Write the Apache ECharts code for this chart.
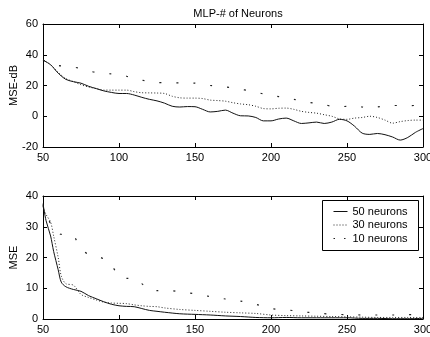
<!DOCTYPE html>
<html><head><meta charset="utf-8">
<script src="https://cdn.jsdelivr.net/npm/echarts@6/dist/echarts.min.js"></script>
<style>html,body{margin:0;padding:0;background:#fff}#c{width:430px;height:337px}</style>
</head><body><div id="c"></div>
<script>
const titleText = "MLP-# of Neurons";
const seriesNames = ["50 neurons", "30 neurons", "10 neurons"];
const xTicks = [50, 100, 150, 200, 250, 300];
const yTicksTop = [-20, 0, 20, 40, 60];
const yTicksBot = [0, 10, 20, 30, 40];

const xTop = [50,55,60,65,70,75,80,85,90,95,100,105,110,115,120,125,130,135,140,145,150,155,160,165,170,175,180,185,190,195,200,205,210,215,220,225,230,235,240,245,250,255,260,265,270,275,280,285,290,295,300];
const top50 = [36.5,33.5,28,24,22.5,21.5,19.5,18,16.5,15.5,14.8,14.8,13.8,12.3,11,10,8.5,6.5,6,6.3,6.2,4.5,2.8,3.2,4,2,0.3,0.2,-0.8,-3,-3,-1.8,-1.2,-3,-4.7,-4.3,-3.8,-4.7,-3.8,-2,-3,-6.5,-11,-11.8,-11.2,-12,-13.5,-15.5,-13.8,-10.5,-8];
const top30 = [36.5,33.5,28.5,24.5,22.5,20.5,19,18,17,17,17,17,16,15.3,15.2,15.1,14.8,13,12,11.8,11.8,11.5,10.5,10.2,9.8,8.8,8,7.5,6.5,5,4.8,5.2,5.3,4.5,3.2,2.5,2,1,0,-1.7,-2,-1.2,-0.8,0,-0.8,-2.5,-4.5,-3.5,-2.8,-2.5,-2.5];
const top10 = [36.5,34.5,33,32.5,32,31,29.5,28.5,28,27.5,27,26,24.5,23.5,22.5,22,21.8,21.7,21.7,21.6,21.5,20.5,20,19.5,19,18.5,17.5,16.8,15.8,14.5,13.5,12.8,12,11,10,9,8.3,7.5,6.5,6.1,6.5,6.9,6,5.2,6,6.8,7,7,6.9,7,7];

const xBot = [50,52,55,57,60,62,65,70,75,80,85,90,95,100,105,110,115,120,125,130,140,150,160,170,180,190,200,210,220,230,240,250,260,270,280,290,300];
const bot50 = [37.5,32,27,22,16,12,10.5,9.6,9,7.6,6.6,5.6,4.8,4.3,4.1,4,3.4,2.8,2.5,2.2,1.7,1.5,1.3,1.0,0.8,0.5,0.4,0.5,0.4,0.4,0.4,0.4,0.2,0.2,0.1,0.1,0.2];
const bot30 = [36.5,34,31.5,27,20,14,11.5,11,8,7,6.2,5.5,5.2,5.1,5,4.6,4.3,4.1,4,3.6,3.1,2.8,2.5,2.2,2,1.8,1.3,1.1,1,0.9,0.8,0.7,0.6,0.5,0.5,0.5,0.5];
const bot10 = [37,34,31,29.5,28,27.5,27.5,27,23,21,20.5,19.5,17.5,14,13.2,13.2,11.5,9.5,9.2,9.5,8.8,8.2,7.3,6.5,5.8,4.8,3.4,3,2.4,1.9,1.6,1.4,1.3,1.3,1.3,1.4,1.4];

const font = "Liberation Sans, Arial, Helvetica, sans-serif";
const styles = [
  {color:'#111', width:1, type:'solid'},
  {color:'#222', width:1, type:[1,2]},
  {color:'#222', width:1.2, type:[2,15]}
];
function pairs(xs, ys){ return xs.map((x,i)=>[x, ys[i]]); }

const grids = [
  {left:43, right:7, top:24, height:123, outerBoundsMode:'none', containLabel:false},
  {left:43, right:7, top:196, height:123, outerBoundsMode:'none', containLabel:false}
];
const xAxes = [], yAxes = [];
const tickLabel = {fontFamily:font, fontSize:11, color:'#000'};
[0,1].forEach(g=>{
  xAxes.push({type:'value', gridIndex:g, min:50, max:300, interval:50, position:'bottom',
    axisLine:{show:true, onZero:false, lineStyle:{color:'#000', width:1}},
    axisTick:{show:true, inside:true, length:4, lineStyle:{color:'#000'}},
    axisLabel:Object.assign({margin:5, showMinLabel:true, showMaxLabel:true}, tickLabel),
    splitLine:{show:false}});
  xAxes.push({type:'value', gridIndex:g, min:50, max:300, interval:50, position:'top',
    axisLine:{show:true, onZero:false, lineStyle:{color:'#000', width:1}},
    axisTick:{show:true, inside:true, length:4, lineStyle:{color:'#000'}},
    axisLabel:{show:false}, splitLine:{show:false}});
});
yAxes.push({type:'value', gridIndex:0, min:-20, max:60, interval:20, position:'left',
  name:'MSE-dB', nameLocation:'middle', nameGap:24, nameMoveOverlap:false,
  nameTextStyle:{fontFamily:font, fontSize:11, color:'#000'},
  axisLine:{show:true, onZero:false, lineStyle:{color:'#000'}},
  axisTick:{show:true, inside:true, length:4, lineStyle:{color:'#000'}},
  axisLabel:Object.assign({margin:5}, tickLabel), splitLine:{show:false}});
yAxes.push({type:'value', gridIndex:0, min:-20, max:60, interval:20, position:'right',
  axisLine:{show:true, onZero:false, lineStyle:{color:'#000'}},
  axisTick:{show:true, inside:true, length:4, lineStyle:{color:'#000'}},
  axisLabel:{show:false}, splitLine:{show:false}});
yAxes.push({type:'value', gridIndex:1, min:0, max:40, interval:10, position:'left',
  name:'MSE', nameLocation:'middle', nameGap:24, nameMoveOverlap:false,
  nameTextStyle:{fontFamily:font, fontSize:11, color:'#000'},
  axisLine:{show:true, onZero:false, lineStyle:{color:'#000'}},
  axisTick:{show:true, inside:true, length:4, lineStyle:{color:'#000'}},
  axisLabel:Object.assign({margin:5}, tickLabel), splitLine:{show:false}});
yAxes.push({type:'value', gridIndex:1, min:0, max:40, interval:10, position:'right',
  axisLine:{show:true, onZero:false, lineStyle:{color:'#000'}},
  axisTick:{show:true, inside:true, length:4, lineStyle:{color:'#000'}},
  axisLabel:{show:false}, splitLine:{show:false}});

const topData = [top50, top30, top10];
const botData = [bot50, bot30, bot10];
const series = [];
seriesNames.forEach((n,i)=>{
  series.push({name:n, type:'line', xAxisIndex:0, yAxisIndex:0, data:pairs(xTop, topData[i]),
    symbol:'none', smooth:0.3, lineStyle:styles[i], itemStyle:{color:styles[i].color}, z:3-i});
});
seriesNames.forEach((n,i)=>{
  series.push({name:n, type:'line', xAxisIndex:2, yAxisIndex:2, data:pairs(xBot, botData[i]),
    symbol:'none', smooth:0.3, lineStyle:styles[i], itemStyle:{color:styles[i].color}, z:3-i});
});

// legend drawn as graphic box
const legendChildren = [
  {type:'rect', shape:{x:0, y:0, width:96, height:50}, style:{fill:'#fff', stroke:'#000', lineWidth:1}}
];
seriesNames.forEach((n,i)=>{
  const y = 11 + i*13.5;
  const s = styles[i];
  legendChildren.push({type:'line', shape:{x1:11, y1:y, x2:25, y2:y},
    style:{stroke:s.color, lineWidth:s.width, lineDash: s.type==='solid' ? null : (i===2 ? [1.5,9] : s.type)}});
  legendChildren.push({type:'text', x:30, y:y, style:{text:n, fontFamily:font, fontSize:11, fill:'#000', verticalAlign:'middle', align:'left'}});
});

const chart = echarts.init(document.getElementById('c'), null, {renderer:'canvas'});
chart.setOption({
  animation:false,
  backgroundColor:'#fff',
  title:{text:titleText, left:233, top:3, textAlign:'center',
    textStyle:{fontFamily:font, fontSize:11, fontWeight:'normal', color:'#000'}},
  grid:grids, xAxis:xAxes, yAxis:yAxes, series:series,
  graphic:[{type:'group', left:322, top:200, z:100, children:legendChildren}]
});
</script></body></html>
